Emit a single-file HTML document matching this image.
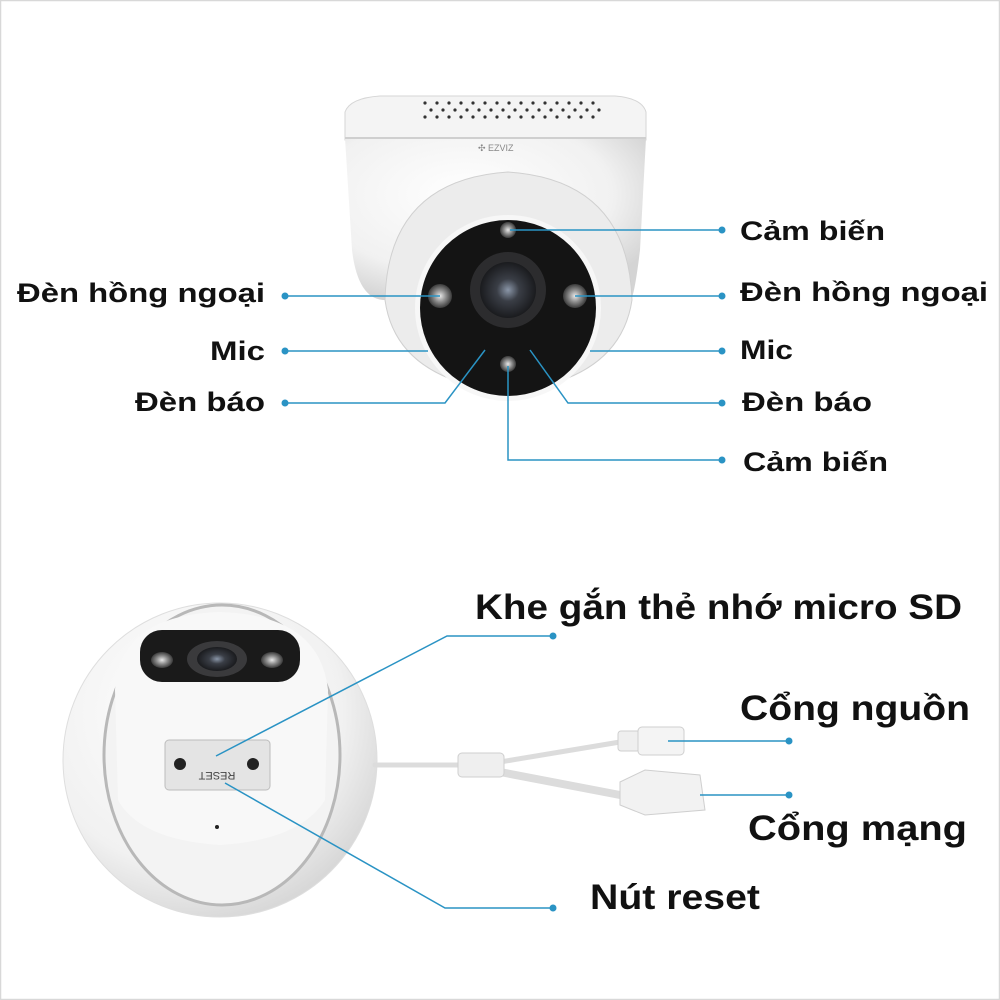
<!DOCTYPE html>
<html><head><meta charset="utf-8"><style>
html,body{margin:0;padding:0;background:#fff}
svg{display:block}
text{font-family:"Liberation Sans",sans-serif;font-weight:bold;fill:#111}
</style></head><body>
<svg width="1000" height="1000" viewBox="0 0 1000 1000">
<defs>
<radialGradient id="wg" cx="0.4" cy="0.35" r="0.7"><stop offset="0" stop-color="#ffffff"/><stop offset="0.7" stop-color="#f1f1f1"/><stop offset="1" stop-color="#d4d4d4"/></radialGradient>
<radialGradient id="lens" cx="0.5" cy="0.5" r="0.5"><stop offset="0" stop-color="#8a96a8"/><stop offset="0.4" stop-color="#3a3e46"/><stop offset="1" stop-color="#1a1b1e"/></radialGradient>
<radialGradient id="led" cx="0.5" cy="0.5" r="0.5"><stop offset="0" stop-color="#e8e8e8"/><stop offset="0.5" stop-color="#8d8d8d"/><stop offset="1" stop-color="#3a3a3a"/></radialGradient>
</defs>
<rect x="0.5" y="0.5" width="999" height="999" fill="#fff" stroke="#d8d8d8" stroke-width="1.5"/>

<!-- TOP CAMERA -->
<path d="M345 112 Q350 98 380 96 L615 96 Q642 98 646 112 L646 140 L345 140 Z" fill="#f4f4f4" stroke="#d6d6d6"/>
<path d="M345 138 L646 138 L640 250 Q634 300 630 300 L385 300 Q358 300 352 250 Z" fill="url(#wg)"/>
<line x1="345" y1="138" x2="646" y2="138" stroke="#cfcfcf" stroke-width="2"/>
<g fill="#333">
<circle cx="425" cy="103" r="1.6"/><circle cx="437" cy="103" r="1.6"/><circle cx="449" cy="103" r="1.6"/><circle cx="461" cy="103" r="1.6"/><circle cx="473" cy="103" r="1.6"/><circle cx="485" cy="103" r="1.6"/><circle cx="497" cy="103" r="1.6"/><circle cx="509" cy="103" r="1.6"/><circle cx="521" cy="103" r="1.6"/><circle cx="533" cy="103" r="1.6"/><circle cx="545" cy="103" r="1.6"/><circle cx="557" cy="103" r="1.6"/><circle cx="569" cy="103" r="1.6"/><circle cx="581" cy="103" r="1.6"/><circle cx="593" cy="103" r="1.6"/>
<circle cx="431" cy="110" r="1.6"/><circle cx="443" cy="110" r="1.6"/><circle cx="455" cy="110" r="1.6"/><circle cx="467" cy="110" r="1.6"/><circle cx="479" cy="110" r="1.6"/><circle cx="491" cy="110" r="1.6"/><circle cx="503" cy="110" r="1.6"/><circle cx="515" cy="110" r="1.6"/><circle cx="527" cy="110" r="1.6"/><circle cx="539" cy="110" r="1.6"/><circle cx="551" cy="110" r="1.6"/><circle cx="563" cy="110" r="1.6"/><circle cx="575" cy="110" r="1.6"/><circle cx="587" cy="110" r="1.6"/><circle cx="599" cy="110" r="1.6"/>
<circle cx="425" cy="117" r="1.6"/><circle cx="437" cy="117" r="1.6"/><circle cx="449" cy="117" r="1.6"/><circle cx="461" cy="117" r="1.6"/><circle cx="473" cy="117" r="1.6"/><circle cx="485" cy="117" r="1.6"/><circle cx="497" cy="117" r="1.6"/><circle cx="509" cy="117" r="1.6"/><circle cx="521" cy="117" r="1.6"/><circle cx="533" cy="117" r="1.6"/><circle cx="545" cy="117" r="1.6"/><circle cx="557" cy="117" r="1.6"/><circle cx="569" cy="117" r="1.6"/><circle cx="581" cy="117" r="1.6"/><circle cx="593" cy="117" r="1.6"/>
</g>
<text x="478" y="151" font-size="9" style="font-weight:normal;fill:#888">✣ EZVIZ</text>
<path d="M385 300 Q388 180 508 172 Q628 180 632 300 Q620 380 508 392 Q396 380 385 300 Z" fill="#ececec" stroke="#d0d0d0"/>
<circle cx="508" cy="308" r="93" fill="#f7f7f7"/>
<circle cx="508" cy="308" r="88" fill="#141414"/>
<circle cx="508" cy="290" r="38" fill="#2c2c2e"/>
<circle cx="508" cy="290" r="28" fill="url(#lens)"/>
<circle cx="508" cy="230" r="8" fill="url(#led)"/>
<circle cx="508" cy="364" r="8" fill="url(#led)"/>
<circle cx="440" cy="296" r="12" fill="url(#led)"/>
<circle cx="575" cy="296" r="12" fill="url(#led)"/>

<g stroke="#2a93c4" stroke-width="1.5" fill="none">
<line x1="510" y1="230" x2="722" y2="230"/>
<line x1="285" y1="296" x2="440" y2="296"/>
<line x1="575" y1="296" x2="722" y2="296"/>
<line x1="285" y1="351" x2="428" y2="351"/>
<line x1="590" y1="351" x2="722" y2="351"/>
<polyline points="285,403 445,403 485,350"/>
<polyline points="722,403 568,403 530,350"/>
<polyline points="722,460 508,460 508,366"/>
</g>
<g fill="#2a93c4">
<circle cx="722" cy="230" r="3.5"/><circle cx="285" cy="296" r="3.5"/><circle cx="722" cy="296" r="3.5"/>
<circle cx="285" cy="351" r="3.5"/><circle cx="722" cy="351" r="3.5"/><circle cx="285" cy="403" r="3.5"/>
<circle cx="722" cy="403" r="3.5"/><circle cx="722" cy="460" r="3.5"/>
</g>
<g font-size="27" lengthAdjust="spacingAndGlyphs">
<text x="17" y="302" textLength="248" lengthAdjust="spacingAndGlyphs">Đèn hồng ngoại</text>
<text x="210" y="360" textLength="55" lengthAdjust="spacingAndGlyphs">Mic</text>
<text x="135" y="411" textLength="130" lengthAdjust="spacingAndGlyphs">Đèn báo</text>
<text x="740" y="240" textLength="145" lengthAdjust="spacingAndGlyphs">Cảm biến</text>
<text x="740" y="301" textLength="248" lengthAdjust="spacingAndGlyphs">Đèn hồng ngoại</text>
<text x="740" y="359" textLength="53" lengthAdjust="spacingAndGlyphs">Mic</text>
<text x="742" y="411" textLength="130" lengthAdjust="spacingAndGlyphs">Đèn báo</text>
<text x="743" y="471" textLength="145" lengthAdjust="spacingAndGlyphs">Cảm biến</text>
</g>

<!-- BOTTOM CAMERA -->
<circle cx="220" cy="760" r="157" fill="url(#wg)" stroke="#dedede"/>
<ellipse cx="222" cy="755" rx="118" ry="150" fill="#f3f3f3" stroke="#b8b8b8" stroke-width="3"/>
<path d="M115 690 Q120 615 220 612 Q320 615 328 690 L325 800 Q300 840 220 845 Q140 840 118 800 Z" fill="#f8f8f8"/>
<rect x="140" y="630" width="160" height="52" rx="22" fill="#1a1a1a"/>
<ellipse cx="217" cy="659" rx="30" ry="18" fill="#3a3a3c"/>
<ellipse cx="217" cy="659" rx="20" ry="12" fill="url(#lens)"/>
<ellipse cx="162" cy="660" rx="11" ry="8" fill="url(#led)"/>
<ellipse cx="272" cy="660" rx="11" ry="8" fill="url(#led)"/>
<rect x="165" y="740" width="105" height="50" rx="4" fill="#e4e4e4" stroke="#bdbdbd"/>
<circle cx="180" cy="764" r="6" fill="#222"/><circle cx="253" cy="764" r="6" fill="#222"/>
<text x="217" y="780" font-size="11" text-anchor="middle" transform="rotate(180 217 776)" style="font-weight:normal;fill:#444">RESET</text>
<circle cx="217" cy="827" r="2" fill="#222"/>
<g stroke="#dcdcdc" fill="none" stroke-linecap="round">
<line x1="375" y1="765" x2="462" y2="765" stroke-width="5"/>
<path d="M500 762 L620 742" stroke-width="5"/>
<path d="M500 772 L620 795" stroke-width="8"/>
</g>
<rect x="458" y="753" width="46" height="24" rx="4" fill="#efefef" stroke="#cfcfcf"/>
<rect x="618" y="731" width="22" height="20" rx="3" fill="#efefef" stroke="#cfcfcf"/>
<rect x="638" y="727" width="46" height="28" rx="4" fill="#f4f4f4" stroke="#cfcfcf"/>
<path d="M620 782 L645 770 L700 775 L705 810 L645 815 L620 805 Z" fill="#f2f2f2" stroke="#cfcfcf"/>
<g stroke="#2a93c4" stroke-width="1.5" fill="none">
<polyline points="553,636 447,636 216,756"/>
<polyline points="225,783 445,908 553,908"/>
<line x1="668" y1="741" x2="789" y2="741"/>
<line x1="700" y1="795" x2="789" y2="795"/>
</g>
<g fill="#2a93c4">
<circle cx="553" cy="636" r="3.5"/><circle cx="553" cy="908" r="3.5"/><circle cx="789" cy="741" r="3.5"/><circle cx="789" cy="795" r="3.5"/>
</g>
<g font-size="35">
<text x="475" y="619" textLength="487" lengthAdjust="spacingAndGlyphs">Khe gắn thẻ nhớ micro SD</text>
<text x="740" y="720" textLength="230" lengthAdjust="spacingAndGlyphs">Cổng nguồn</text>
<text x="748" y="840" textLength="219" lengthAdjust="spacingAndGlyphs">Cổng mạng</text>
<text x="590" y="909" textLength="170" lengthAdjust="spacingAndGlyphs">Nút reset</text>
</g>
</svg>
</body></html>
